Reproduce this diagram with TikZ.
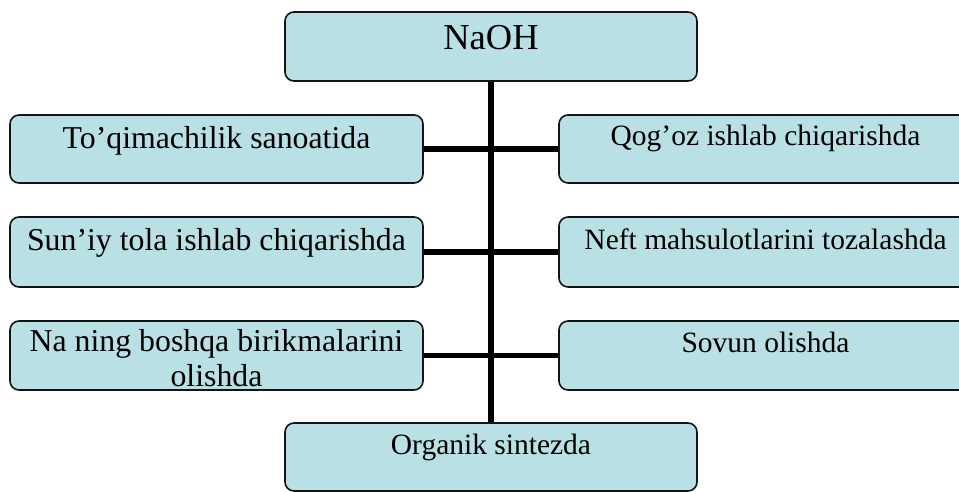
\documentclass[tikz,border=0pt]{standalone}
\usepackage{fontspec}
\setmainfont{Liberation Serif}
\definecolor{boxfill}{HTML}{B9E0E4}
\definecolor{boxline}{HTML}{141414}
\begin{document}
\begin{tikzpicture}[x=1pt,y=-1pt,
  box/.style={draw=boxline,line width=1.6pt,fill=boxfill,rounded corners=9pt,
    inner sep=0pt,minimum width=413pt,minimum height=68pt},
  link/.style={line width=5.5pt,draw=black},
  lbl/.style={anchor=base,inner sep=0pt,align=center},
  big/.style={font=\fontsize{36.5}{40}\selectfont},
  lft/.style={font=\fontsize{31.8}{35}\selectfont},
  rgt/.style={font=\fontsize{29.5}{34}\selectfont}]
\useasboundingbox (0,0) rectangle (959,492);
\clip (0,0) rectangle (959,492);
\node[box,minimum width=412pt,minimum height=69pt] (naoh) at (491,46.5) {};
\node[box] (l1) at (216.5,149) {};
\node[box] (r1) at (765.5,149) {};
\node[box,minimum height=70pt] (l2) at (216.5,252) {};
\node[box,minimum height=70pt] (r2) at (765.5,252) {};
\node[box,minimum height=69pt] (l3) at (216.5,355.5) {};
\node[box,minimum height=69pt] (r3) at (765.5,355.5) {};
\node[box,minimum width=412pt] (org) at (491,457) {};
\draw[link] (naoh.south) -- (org.north);
\draw[link] (l1.east) -- (r1.west);
\draw[link] (l2.east) -- (r2.west);
\draw[link] (l3.east) -- (r3.west);
\node[lbl,big] (tnaoh) at ([yshift=-38pt]naoh.north) {NaOH};
\node[lbl,lft] (tl1) at ([yshift=-34pt]l1.north) {To’qimachilik sanoatida};
\node[lbl,rgt] (tr1) at ([yshift=-31pt]r1.north) {Qog’oz ishlab chiqarishda};
\node[lbl,lft] (tl2) at ([yshift=-34pt]l2.north) {Sun’iy tola ishlab chiqarishda};
\node[lbl,rgt] (tr2) at ([yshift=-33pt]r2.north) {Neft mahsulotlarini tozalashda};
\node[lbl,lft,anchor=north] (tl3) at ([yshift=-9pt]l3.north) {Na ning boshqa birikmalarini\\olishda};
\node[lbl,rgt] (tr3) at ([yshift=-32pt]r3.north) {Sovun olishda};
\node[lbl,rgt] (torg) at ([yshift=-32pt]org.north) {Organik sintezda};
\end{tikzpicture}
\end{document}
